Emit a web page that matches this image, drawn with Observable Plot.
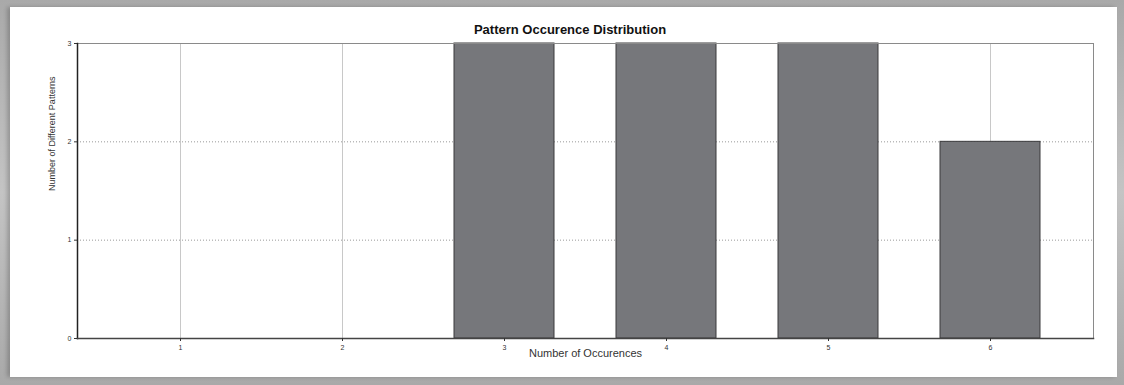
<!DOCTYPE html>
<html>
<head>
<meta charset="utf-8">
<script src="https://cdn.jsdelivr.net/npm/d3@7"></script>
<script src="https://cdn.jsdelivr.net/npm/@observablehq/plot@0.6"></script>
<style>
  html, body { margin: 0; padding: 0; }
  body { width: 1124px; height: 385px; background: linear-gradient(#a9a9a9, #c4c4c4 50%, #a9a9a9); position: relative; overflow: hidden; font-family: "Liberation Sans", Arial, sans-serif; }
  #panel { position: absolute; left: 10px; top: 7px; width: 1107px; height: 370px; background: #fff; box-shadow: -3px 0 4px rgba(0,0,0,0.2); }
  #title { position: absolute; left: 0; width: 1140px; top: 22px; text-align: center; font-weight: bold; font-size: 13px; color: #111; }
  #chart { position: absolute; left: 0; top: 0; }
</style>
</head>
<body>
<div id="panel"></div>
<div id="title">Pattern Occurence Distribution</div>
<div id="chart"></div>
<script>
const categories = [1, 2, 3, 4, 5, 6];
const counts = [0, 0, 3, 3, 3, 2];
const yTicks = [0, 1, 2, 3];
const xLabel = "Number of Occurences";
const yLabel = "Number of Different Patterns";

const data = categories.map((c, i) => ({occ: c, n: counts[i]}));

const chart = Plot.plot({
  width: 1124,
  height: 385,
  marginLeft: 77,
  marginRight: 31,
  marginTop: 43,
  marginBottom: 47,
  style: {background: "transparent", fontFamily: "Liberation Sans, Arial, sans-serif", fontSize: "7px", color: "#333"},
  x: {type: "band", domain: categories, paddingInner: 0.38, paddingOuter: 0.31},
  y: {domain: [0, 3]},
  marks: [
    Plot.gridX(categories, {stroke: "#c8c8c8", strokeOpacity: 1}),
    Plot.gridY([1, 2], {stroke: "#999", strokeOpacity: 1, strokeDasharray: "1,2"}),
    Plot.barY(data, {x: "occ", y: "n", fill: "#76777b", stroke: "#3a3a3c", strokeWidth: 1}),
    Plot.frame({stroke: "#8a8a8a"}),
    Plot.frame({anchor: "left", stroke: "#222", strokeWidth: 1.5}),
    Plot.frame({anchor: "bottom", stroke: "#444", strokeWidth: 1.5}),
    Plot.axisX({ticks: categories, tickSize: 3, tickPadding: 4, label: null}),
    Plot.axisY({ticks: yTicks, tickSize: 3, tickPadding: 3, label: null, tickFormat: d3.format("d")}),
    Plot.text([yLabel], {frameAnchor: "left", rotate: -90, dx: -25, fontSize: 9, fill: "#333"}),
    Plot.text([xLabel], {frameAnchor: "bottom", dy: 18, fontSize: 11, fill: "#333"})
  ]
});
document.getElementById("chart").appendChild(chart);
</script>
</body>
</html>
